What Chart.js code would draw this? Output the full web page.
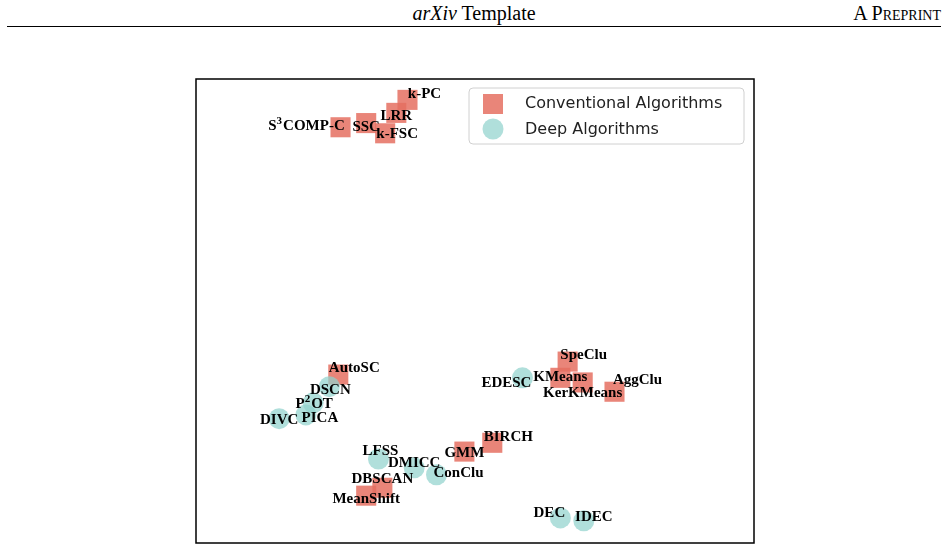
<!DOCTYPE html>
<html>
<head>
<meta charset="utf-8">
<script src="https://cdn.jsdelivr.net/npm/chart.js@4/dist/chart.umd.min.js"></script>
<style>
  html, body { margin: 0; padding: 0; background: #fff; }
  body { width: 948px; height: 549px; position: relative; overflow: hidden; }
  .hdr { position: absolute; font-family: "Liberation Serif", serif; font-size: 20px; color: #000; line-height: 1; }
  #title { left: 0; width: 948px; top: 3px; text-align: center; }
  #tag { right: 7px; top: 3px; font-variant: small-caps; }
  #rule { position: absolute; left: 7px; width: 934px; top: 26px; height: 1px; background: #000; }
  #wrap { position: absolute; left: 194px; top: 77px; width: 562px; height: 468px; }
</style>
</head>
<body>
<div class="hdr" id="title"><i>arXiv</i> Template</div>
<div class="hdr" id="tag">A Preprint</div>
<div id="rule"></div>
<div id="wrap"><canvas id="tsne"></canvas></div>
<script>
// embedding coordinates (arbitrary units)
const convNames = ["k-PC", "LRR", "SSC", "k-FSC", "S\u00b3COMP-C", "SpeClu", "KMeans", "KerKMeans",
  "AggClu", "AutoSC", "GMM", "BIRCH", "DBSCAN", "MeanShift"];
const convX = [-12.1, -14.1, -19.5, -16.1, -24.1, 16.6, 15.3, 19.3, 25.0, -24.5, -1.9, 3.1, -16.6, -19.5];
const convY = [45.5, 42.7, 40.5, 38.3, 39.6, -10.9, -14.4, -15.4, -17.4, -13.7, -30.3, -28.4, -38.1, -39.8];

const deepNames = ["EDESC", "DSCN", "P\u00b2OT", "PICA", "DIVC", "LFSS", "DMICC", "ConClu", "DEC", "IDEC"];
const deepX = [8.5, -26.1, -29.0, -30.3, -35.1, -17.3, -10.9, -6.9, 15.3, 19.5];
const deepY = [-14.4, -16.3, -19.8, -22.4, -23.2, -31.9, -33.8, -35.3, -44.6, -45.2];

const CONV_COLOR = "rgba(229,112,97,0.85)";
const DEEP_COLOR = "rgba(145,210,205,0.72)";
const SUPERS = { "\u00b2": "2", "\u00b3": "3" };

const toPoints = (xs, ys) => xs.map((x, i) => ({ x, y: ys[i] }));

// draws a label centred on (x, y), raising superscript digits like TeX does
function drawLabel(ctx, text, x, y) {
  const big = "bold 15px 'Liberation Serif', serif";
  const small = "bold 11px 'Liberation Serif', serif";
  const parts = [];
  let buf = "";
  for (const ch of text) {
    if (SUPERS[ch]) {
      if (buf) parts.push({ t: buf, sup: false });
      parts.push({ t: SUPERS[ch], sup: true });
      buf = "";
    } else buf += ch;
  }
  if (buf) parts.push({ t: buf, sup: false });
  let total = 0;
  parts.forEach((p) => {
    ctx.font = p.sup ? small : big;
    p.w = ctx.measureText(p.t).width + (p.sup ? 1 : 0);
    total += p.w;
  });
  let cx = x - total / 2;
  ctx.textAlign = "left";
  parts.forEach((p) => {
    ctx.font = p.sup ? small : big;
    ctx.fillText(p.t, cx, p.sup ? y - 5 : y);
    cx += p.w;
  });
}

const labelPlugin = {
  id: "pointLabels",
  afterDatasetsDraw(chart, args, opts) {
    const ctx = chart.ctx;
    ctx.save();
    ctx.fillStyle = "#000";
    ctx.textBaseline = "middle";
    chart.data.datasets.forEach((ds, di) => {
      const meta = chart.getDatasetMeta(di);
      ds.names.forEach((name, i) => {
        const el = meta.data[i];
        const nudge = opts.nudge[name] || [0, 0];
        drawLabel(ctx, name, el.x + nudge[0], el.y + nudge[1]);
      });
    });
    ctx.restore();
  },
};

const framePlugin = {
  id: "frameAndLegend",
  afterDraw(chart) {
    const ctx = chart.ctx;
    const a = chart.chartArea;
    ctx.save();
    ctx.strokeStyle = "#000";
    ctx.lineWidth = 1.5;
    ctx.strokeRect(a.left, a.top, a.right - a.left, a.bottom - a.top);

    // legend box, upper right
    const lx = a.left + 273, ly = a.top + 9, lw = 275, lh = 56;
    ctx.beginPath();
    ctx.roundRect(lx, ly, lw, lh, 4);
    ctx.fillStyle = "rgba(255,255,255,0.8)";
    ctx.fill();
    ctx.strokeStyle = "#d0d0d0";
    ctx.lineWidth = 1;
    ctx.stroke();

    ctx.fillStyle = CONV_COLOR;
    ctx.fillRect(lx + 14, ly + 6, 20, 20);
    ctx.fillStyle = DEEP_COLOR;
    ctx.beginPath();
    ctx.arc(lx + 24, ly + 41, 10.5, 0, Math.PI * 2);
    ctx.fill();

    ctx.fillStyle = "#222";
    ctx.font = "16px 'DejaVu Sans', sans-serif";
    ctx.textBaseline = "middle";
    ctx.fillText(chart.data.datasets[0].label, lx + 56, ly + 16);
    ctx.fillText(chart.data.datasets[1].label, lx + 56, ly + 42);
    ctx.restore();
  },
};

new Chart(document.getElementById("tsne"), {
  type: "scatter",
  data: {
    datasets: [
      {
        label: "Conventional Algorithms",
        names: convNames,
        data: toPoints(convX, convY),
        pointStyle: "rect",
        pointRadius: 14.2,
        pointHoverRadius: 14.2,
        backgroundColor: CONV_COLOR,
        borderWidth: 0,
        order: 1,
      },
      {
        label: "Deep Algorithms",
        names: deepNames,
        data: toPoints(deepX, deepY),
        pointStyle: "circle",
        pointRadius: 10.5,
        pointHoverRadius: 10.5,
        backgroundColor: DEEP_COLOR,
        borderWidth: 0,
        order: 0,
      },
    ],
  },
  options: {
    responsive: true,
    maintainAspectRatio: false,
    animation: false,
    layout: { padding: 2, autoPadding: false },
    events: [],
    scales: {
      x: { display: false, min: -50, max: 50 },
      y: { display: false, min: -50, max: 50 },
    },
    plugins: {
      legend: { display: false },
      tooltip: { enabled: false },
      pointLabels: {
        nudge: {
          "k-PC": [17, -6], "LRR": [0, 3], "SSC": [0, 4], "k-FSC": [12, 1],
          "S\u00b3COMP-C": [-34, -1], "SpeClu": [16, -6], "KMeans": [0, -1],
          "KerKMeans": [0, 11], "AggClu": [23, -12], "AutoSC": [16, -6],
          "GMM": [0, 2], "BIRCH": [16, -6], "DBSCAN": [0, -9], "MeanShift": [0, 3],
          "EDESC": [-16, 5], "DSCN": [1, 3], "P\u00b2OT": [1, 1], "PICA": [14, 3],
          "DIVC": [0, 1], "LFSS": [2, -8], "DMICC": [0, -5], "ConClu": [22, -2],
          "DEC": [-11, -5], "IDEC": [10, -4],
        },
      },
    },
  },
  plugins: [labelPlugin, framePlugin],
});
</script>
</body>
</html>
